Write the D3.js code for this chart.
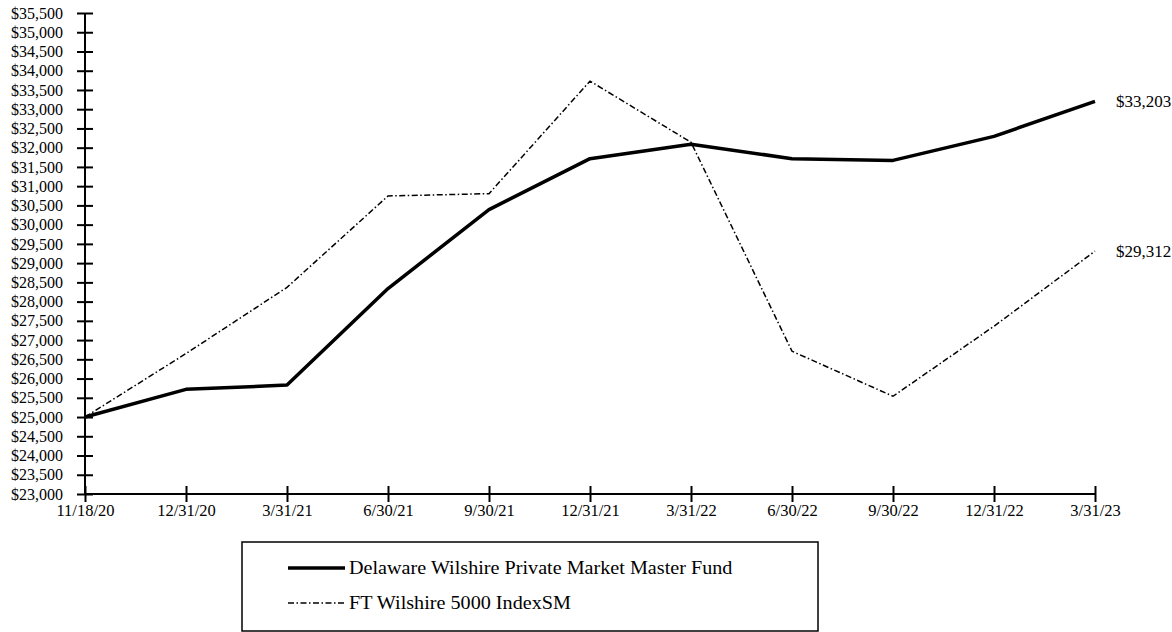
<!DOCTYPE html>
<html>
<head>
<meta charset="utf-8">
<script src="https://cdn.jsdelivr.net/npm/d3@7"></script>
<style>
  html, body { margin: 0; padding: 0; background: #fff; }
  svg { display: block; }
  text { font-family: "Liberation Serif", "Times New Roman", serif; fill: #000; }
</style>
</head>
<body>
<svg id="chart" width="1172" height="632"></svg>
<script>
const dates = ["11/18/20","12/31/20","3/31/21","6/30/21","9/30/21","12/31/21","3/31/22","6/30/22","9/30/22","12/31/22","3/31/23"];
const fundValues = [25000, 25720, 25830, 28340, 30390, 31715, 32090, 31715, 31670, 32295, 33203];
const indexValues = [25000, 26650, 28370, 30745, 30805, 33730, 32140, 26710, 25540, 27360, 29312];
const yTicks = d3.range(23000, 35501, 500);
const seriesNames = ["Delaware Wilshire Private Market Master Fund", "FT Wilshire 5000 IndexSM"];
const endLabels = ["$33,203", "$29,312"];

const svg = d3.select("#chart");
const x = d3.scalePoint().domain(dates).range([85, 1095]);
const y = d3.scaleLinear().domain([23000, 35500]).range([494, 13]);
const fmt = v => "$" + d3.format(",")(v);

// Y axis
const yAxis = svg.append("g").attr("transform", "translate(85,0)")
  .call(d3.axisLeft(y).tickValues(yTicks).tickFormat(fmt).tickSize(8).tickPadding(14));
yAxis.select(".domain").attr("stroke", "#000").attr("stroke-width", 2).attr("d", `M0,${y(35500)}V${y(23000)}`);
yAxis.selectAll(".tick line").attr("x1", -8).attr("x2", 8).attr("stroke", "#000").attr("stroke-width", 2);
yAxis.selectAll(".tick text").attr("font-size", 16).attr("x", -22).style("font-family", "Liberation Serif");

// X axis
const xAxis = svg.append("g").attr("transform", "translate(0,494)")
  .call(d3.axisBottom(x).tickSize(8).tickPadding(8));
xAxis.select(".domain").attr("stroke", "#000").attr("stroke-width", 2).attr("d", `M${x(dates[0])},0H${x(dates[dates.length-1])}`);
xAxis.selectAll(".tick line").attr("y1", -8).attr("y2", 8).attr("stroke", "#000").attr("stroke-width", 2);
xAxis.selectAll(".tick text").attr("font-size", 16.5).attr("y", 10).style("font-family", "Liberation Serif");

const line = d3.line().x((d, i) => x(dates[i])).y(d => y(d));

svg.append("path").datum(indexValues)
  .attr("d", line).attr("fill", "none").attr("stroke", "#000")
  .attr("stroke-width", 1.5).attr("stroke-dasharray", "6,2.5,1.5,2.5");

svg.append("path").datum(fundValues)
  .attr("d", line).attr("fill", "none").attr("stroke", "#000")
  .attr("stroke-width", 3.5).attr("stroke-linejoin", "round");

// End labels
[fundValues, indexValues].forEach((vals, i) => {
  svg.append("text")
    .attr("x", x(dates[dates.length-1]) + 21)
    .attr("y", y(vals[vals.length-1]))
    .attr("dy", "0.35em")
    .attr("font-size", 17)
    .text(endLabels[i]);
});

// Legend
const lg = svg.append("g");
lg.append("rect").attr("x", 242).attr("y", 542).attr("width", 576).attr("height", 89)
  .attr("fill", "none").attr("stroke", "#000").attr("stroke-width", 1.5);
const legendY = [568, 603];
seriesNames.forEach((name, i) => {
  lg.append("line").attr("x1", 288).attr("x2", 345).attr("y1", legendY[i]).attr("y2", legendY[i])
    .attr("stroke", "#000")
    .attr("stroke-width", i === 0 ? 3.5 : 1.5)
    .attr("stroke-dasharray", i === 0 ? null : "6,2.5,1.5,2.5");
  lg.append("text")
    .attr("transform", `translate(349,${legendY[i]}) scale(1.12,1)`)
    .attr("dy", "0.35em")
    .attr("font-size", 18).text(name);
});
</script>
</body>
</html>
